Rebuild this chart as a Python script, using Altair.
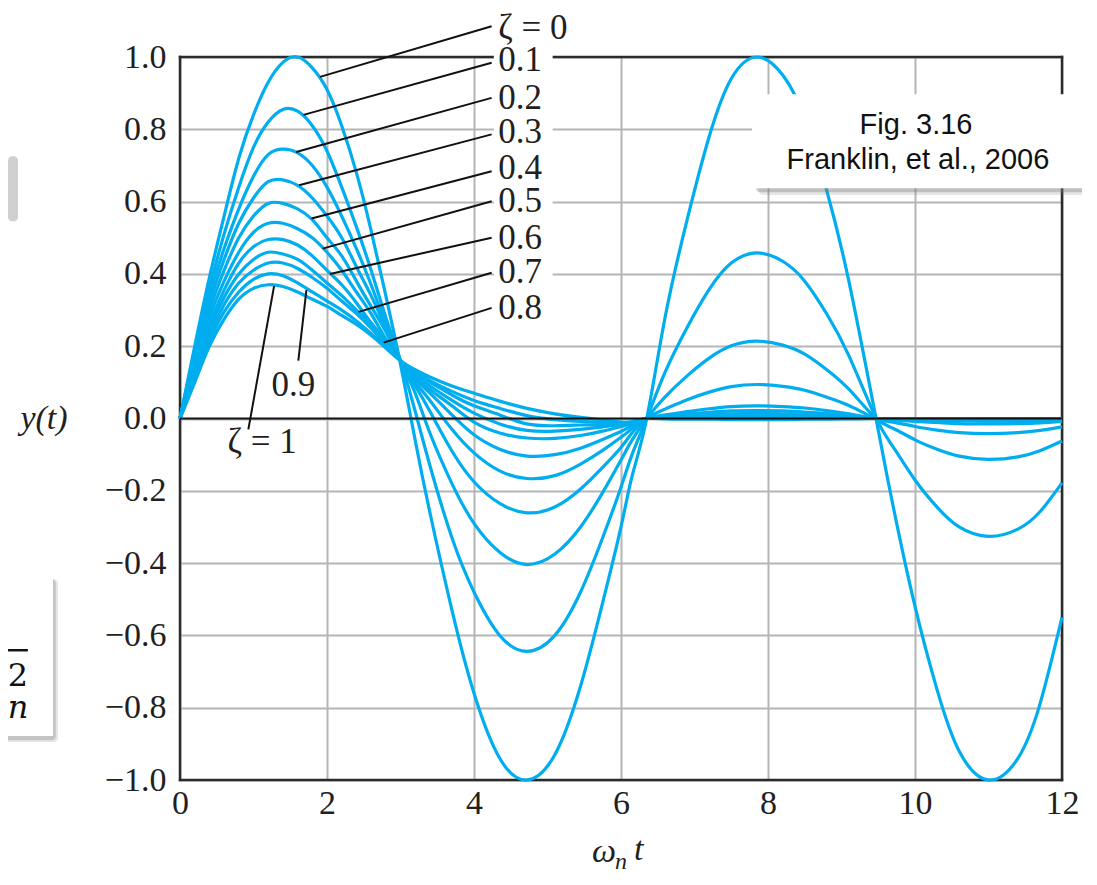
import altair as alt
import pandas as pd

# ---------------- data ----------------
t_grid = [0.0, 0.2, 0.4, 0.6, 0.8, 1.0, 1.2, 1.4, 1.6, 1.8, 2.0, 2.2, 2.4, 2.6, 2.8, 3.0,
          3.2, 3.4, 3.7, 4.0, 4.35, 4.72, 5.1, 5.45, 5.75, 6.0, 6.15, 6.35,
          6.6, 6.9, 7.2, 7.5, 7.85, 8.2, 8.5, 8.8, 9.1, 9.46,
          9.7, 10.0, 10.3, 10.6, 11.0, 11.4, 11.7, 12.0]

zeta_values = ["0", "0.1", "0.2", "0.3", "0.4", "0.5", "0.6", "0.7", "0.8", "0.9", "1"]

y_z00 = [0, .20, .39, .56, .72, .84, .93, .985, 1.0, .97, .91, .81, .68, .52, .34, .15,
         -.06, -.26, -.53, -.76, -.94, -1.0, -.93, -.74, -.51, -.30, -.16, 0,
         .28, .55, .78, .94, 1.0, .95, .83, .63, .38, .01,
         -.24, -.52, -.75, -.92, -1.0, -.94, -.79, -.55]
y_z01 = [0, .19, .36, .51, .64, .75, .82, .855, .85, .81, .74, .64, .53, .41, .28, .16,
         .02, -.13, -.33, -.48, -.60, -.644, -.60, -.48, -.33, -.19, -.10, 0,
         .128, .252, .357, .43, .458, .435, .38, .289, .174, .005,
         -.078, -.17, -.245, -.30, -.326, -.306, -.258, -.178]
y_z02 = [0, .18, .34, .47, .58, .67, .73, .745, .735, .70, .64, .56, .47, .37, .26, .16,
         .07, -.04, -.18, -.29, -.37, -.404, -.375, -.30, -.205, -.115, -.06, 0,
         .06, .118, .167, .201, .214, .203, .178, .135, .081, .002,
         -.027, -.059, -.085, -.104, -.113, -.106, -.089, -.062]
y_z03 = [0, .17, .32, .44, .54, .61, .655, .66, .645, .61, .56, .50, .42, .34, .25, .16,
         .09, .02, -.09, -.175, -.235, -.261, -.245, -.195, -.135, -.08, -.04, 0,
         .026, .052, .073, .088, .094, .089, .078, .059, .036, .001,
         -.01, -.022, -.032, -.039, -.042, -.039, -.033, -.023]
y_z04 = [0, .16, .30, .41, .50, .56, .595, .595, .58, .55, .50, .45, .38, .31, .24, .16,
         .10, .05, -.03, -.095, -.145, -.166, -.158, -.126, -.088, -.052, -.028, 0,
         .01, .019, .027, .033, .035, .033, .029, .022, .013, 0,
         -.004, -.008, -.011, -.014, -.015, -.014, -.012, -.008]
y_z05 = [0, .15, .28, .38, .46, .515, .54, .54, .525, .50, .46, .41, .35, .29, .22, .16,
         .11, .07, .01, -.045, -.085, -.104, -.10, -.082, -.058, -.036, -.02, 0,
         .006, .012, .017, .021, .022, .021, .018, .014, .008, 0,
         -.002, -.004, -.005, -.006, -.007, -.007, -.006, -.004]
y_z06 = [0, .14, .26, .355, .43, .475, .495, .495, .48, .45, .41, .37, .32, .265, .215, .16,
         .115, .08, .035, -.01, -.04, -.054, -.055, -.047, -.035, -.022, -.014, 0,
         .004, .008, .011, .013, .014, .013, .012, .009, .005, 0,
         -.001, -.002, -.003, -.003, -.003, -.003, -.003, -.002]
y_z07 = [0, .13, .245, .335, .40, .44, .46, .455, .44, .41, .375, .34, .30, .26, .21, .16,
         .12, .09, .05, .015, -.015, -.033, -.035, -.03, -.023, -.016, -.011, 0,
         .002, .004, .006, .007, .008, .007, .006, .005, .003, 0,
         -.001, -.001, -.001, -.001, -.001, -.001, -.001, -.001]
y_z08 = [0, .12, .23, .315, .375, .41, .43, .43, .415, .39, .36, .325, .29, .25, .205, .16,
         .125, .10, .065, .035, .01, -.015, -.02, -.018, -.016, -.013, -.01, 0,
         .001, .002, .003, .004, .004, .004, .003, .002, .001, 0,
         0, 0, 0, 0, 0, 0, 0, 0]
y_z09 = [0, .11, .215, .295, .35, .385, .40, .395, .375, .35, .325, .30, .27, .235, .20, .16,
         .13, .105, .075, .05, .028, .008, -.003, -.008, -.01, -.011, -.009, 0,
         0, .001, .001, .002, .002, .002, .001, .001, 0, 0,
         0, 0, 0, 0, 0, 0, 0, 0]
y_z10 = [0, .10, .20, .275, .33, .36, .37, .365, .35, .33, .31, .285, .26, .23, .195, .16,
         .135, .115, .09, .07, .048, .028, .013, .003, -.004, -.01, -.009, 0,
         -.001, -.002, -.002, -.003, -.003, -.003, -.002, -.002, -.001, 0,
         0, 0, 0, 0, 0, 0, 0, 0]

curves = [y_z00, y_z01, y_z02, y_z03, y_z04, y_z05, y_z06, y_z07, y_z08, y_z09, y_z10]

x_ticks = [0, 2, 4, 6, 8, 10, 12]
y_ticks = [-1.0, -0.8, -0.6, -0.4, -0.2, 0.0, 0.2, 0.4, 0.6, 0.8, 1.0]

# zeta labels (text, x, y) and leader lines (curve point -> label)
label_texts = ["ζ = 0", "0.1", "0.2", "0.3", "0.4", "0.5", "0.6", "0.7", "0.8"]
label_x = [4.33] * 9
label_y = [1.0805, 0.993, 0.887, 0.7925, 0.693, 0.601, 0.4996, 0.405, 0.306]
lead_x = [1.905, 1.68, 1.58, 1.62, 1.79, 1.94, 2.04, 2.43, 2.77, 1.72, 1.28]
lead_y = [0.945, 0.84, 0.737, 0.645, 0.553, 0.47, 0.40, 0.295, 0.21, 0.355, 0.366]
lead_x2 = [4.24] * 9 + [1.61, 0.93]
lead_y2 = [1.085, 0.984, 0.887, 0.786, 0.684, 0.601, 0.50, 0.403, 0.306, 0.16, -0.03]
low_texts = ["0.9", "ζ = 1"]
low_x = [1.544, 1.116]
low_y = [0.092, -0.066]

box_lines = ["Fig. 3.16", "Franklin, et al., 2006"]
box_line_x = [10.014, 10.04]
box_line_y = [0.811, 0.716]

# ---------------- tables ----------------
rows = []
for z, ys in zip(zeta_values, curves):
    for t, v in zip(t_grid, ys):
        rows.append({"t": t, "y": v, "zeta": z})
curve_df = pd.DataFrame(rows)

lead_df = pd.DataFrame({"x": lead_x, "y": lead_y, "x2": lead_x2, "y2": lead_y2})
label_df = pd.DataFrame({"x": label_x, "y": label_y, "text": label_texts})
label_bg_df = pd.DataFrame({"x": [4.27] * 8, "x2": [5.07] * 8,
                            "y": [v - 0.045 for v in label_y[1:]],
                            "y2": [v + 0.045 for v in label_y[1:]]})
low_df = pd.DataFrame({"x": low_x, "y": low_y, "text": low_texts})
frame_df = pd.DataFrame({"x": [0, 0, 0, 12], "x2": [12, 12, 0, 12],
                         "y": [1, -1, -1, -1], "y2": [1, -1, 1, 1]})
zero_df = pd.DataFrame({"x": [0], "x2": [12], "y": [0], "y2": [0]})

# ---------------- scales / axes ----------------
xs = alt.Scale(domain=[0, 12], nice=False, zero=False)
ysc = alt.Scale(domain=[-1, 1], nice=False, zero=False)
x_axis = alt.Axis(values=x_ticks, grid=True, gridColor="#b5b5b5", gridWidth=2,
                  domain=False, ticks=False, labelFont="Liberation Serif",
                  labelFontSize=34, labelColor="#231f20", labelPadding=6,
                  title=None, labelFlush=False, labelOverlap=False, format="d")
y_axis = alt.Axis(values=y_ticks, grid=True, gridColor="#b5b5b5", gridWidth=2,
                  domain=False, ticks=False, labelFont="Liberation Serif",
                  labelFontSize=34, labelColor="#231f20", labelPadding=14,
                  title=None, labelFlush=False, labelOverlap=False, format=".1f")


def X(f):
    return alt.X(f, type="quantitative", scale=xs, axis=x_axis)


def Y(f):
    return alt.Y(f, type="quantitative", scale=ysc, axis=y_axis)


frame = alt.Chart(frame_df).mark_rule(color="#2b2b2b", strokeWidth=2.5, strokeCap="square").encode(
    x=X("x"), x2="x2:Q", y=Y("y"), y2="y2:Q")

lines = alt.Chart(curve_df).mark_line(interpolate="natural", strokeWidth=3.2, color="#00aeef").encode(
    x=X("t"), y=Y("y"), detail="zeta:N")

zero = alt.Chart(zero_df).mark_rule(color="#111111", strokeWidth=2.2).encode(
    x=X("x"), x2="x2:Q", y=Y("y"), y2="y2:Q")

leaders = alt.Chart(lead_df).mark_rule(color="#111111", strokeWidth=2).encode(
    x=X("x"), x2="x2:Q", y=Y("y"), y2="y2:Q")

label_bg = alt.Chart(label_bg_df).mark_rect(color="white").encode(
    x=X("x"), x2="x2:Q", y=Y("y"), y2="y2:Q")

labels = alt.Chart(label_df).mark_text(align="left", baseline="middle", font="Liberation Serif",
                                       fontSize=35, color="#231f20").encode(
    x=X("x"), y=Y("y"), text="text:N")

low_labels = alt.Chart(low_df).mark_text(align="center", baseline="middle", font="Liberation Serif",
                                         fontSize=35, color="#231f20").encode(
    x=X("x"), y=Y("y"), text="text:N")

# axis titles
ytitle = alt.Chart(pd.DataFrame({"x": [-1.85], "y": [0.0], "text": ["y(t)"]})).mark_text(
    align="center", baseline="middle", font="Liberation Serif", fontSize=34, fontStyle="italic",
    color="#231f20").encode(x=X("x"), y=Y("y"), text="text:N")
xt_main = alt.Chart(pd.DataFrame({"x": [5.77, 6.24], "y": [-1.2, -1.195], "text": ["ω", "t"]})).mark_text(
    align="center", baseline="middle", font="Liberation Serif", fontSize=34, fontStyle="italic",
    color="#231f20").encode(x=X("x"), y=Y("y"), text="text:N")
xt_sub = alt.Chart(pd.DataFrame({"x": [6.0], "y": [-1.228], "text": ["n"]})).mark_text(
    align="center", baseline="middle", font="Liberation Serif", fontSize=24, fontStyle="italic",
    color="#231f20").encode(x=X("x"), y=Y("y"), text="text:N")

# annotation box "Fig. 3.16"
box_shadow = alt.Chart(pd.DataFrame({"x": [7.836, 7.877], "x2": [12.367, 12.408],
                                     "y": [0.886, 0.878], "y2": [0.626, 0.618],
                                     "o": [0.35, 0.18]})).mark_rect(color="#777777", cornerRadius=4).encode(
    x=X("x"), x2="x2:Q", y=Y("y"), y2="y2:Q", opacity=alt.Opacity("o:Q", scale=None, legend=None))
box = alt.Chart(pd.DataFrame({"x": [7.782], "x2": [12.313], "y": [0.897], "y2": [0.637]})).mark_rect(
    color="white", cornerRadius=3).encode(x=X("x"), x2="x2:Q", y=Y("y"), y2="y2:Q")
box_text = alt.Chart(pd.DataFrame({"x": box_line_x, "y": box_line_y, "text": box_lines})).mark_text(
    align="center", baseline="middle", font="Liberation Sans", fontSize=29, color="#111111").encode(
    x=X("x"), y=Y("y"), text="text:N")

# partially visible boxes at the left edge
left_shadow = alt.Chart(pd.DataFrame({"x": [-2.34, -2.43, -2.40], "x2": [-2.204, -1.66, -1.69],
                                      "y": [0.7256, -0.445, -0.445], "y2": [0.5458, -0.895, -0.89],
                                      "o": [0.35, 0.18, 0.3]})).mark_rect(color="#777777", cornerRadius=4).encode(
    x=X("x"), x2="x2:Q", y=Y("y"), y2="y2:Q", opacity=alt.Opacity("o:Q", scale=None, legend=None))
left_box = alt.Chart(pd.DataFrame({"x": [-2.5, -2.5], "x2": [-2.34, -1.728],
                                   "y": [0.735, -0.4308], "y2": [0.555, -0.8783]})).mark_rect(
    color="white").encode(x=X("x"), x2="x2:Q", y=Y("y"), y2="y2:Q")
left_bar = alt.Chart(pd.DataFrame({"x": [-2.5], "x2": [-2.07], "y": [-0.641], "y2": [-0.641]})).mark_rule(
    color="#111111", strokeWidth=2.5).encode(x=X("x"), x2="x2:Q", y=Y("y"), y2="y2:Q")
left_two = alt.Chart(pd.DataFrame({"x": [-2.204], "y": [-0.712], "text": ["2"]})).mark_text(
    align="center", baseline="middle", font="DejaVu Serif", fontSize=32, color="#111111").encode(
    x=X("x"), y=Y("y"), text="text:N")
left_n = alt.Chart(pd.DataFrame({"x": [-2.204], "y": [-0.80], "text": ["n"]})).mark_text(
    align="center", baseline="middle", font="DejaVu Serif", fontSize=32, fontStyle="italic",
    color="#111111").encode(x=X("x"), y=Y("y"), text="text:N")

chart = alt.layer(
    frame, lines, zero, leaders, label_bg, labels, low_labels, ytitle, xt_main, xt_sub,
    box_shadow, box, box_text, left_shadow, left_box, left_bar, left_two, left_n
).properties(
    width=882, height=723,
    autosize=alt.AutoSizeParams(type="none"),
    padding={"left": 172, "top": 49, "right": 20, "bottom": 97},
    background="white",
).configure_view(stroke=None)

chart.save("out.html", embed_options={"renderer": "svg", "actions": False})
